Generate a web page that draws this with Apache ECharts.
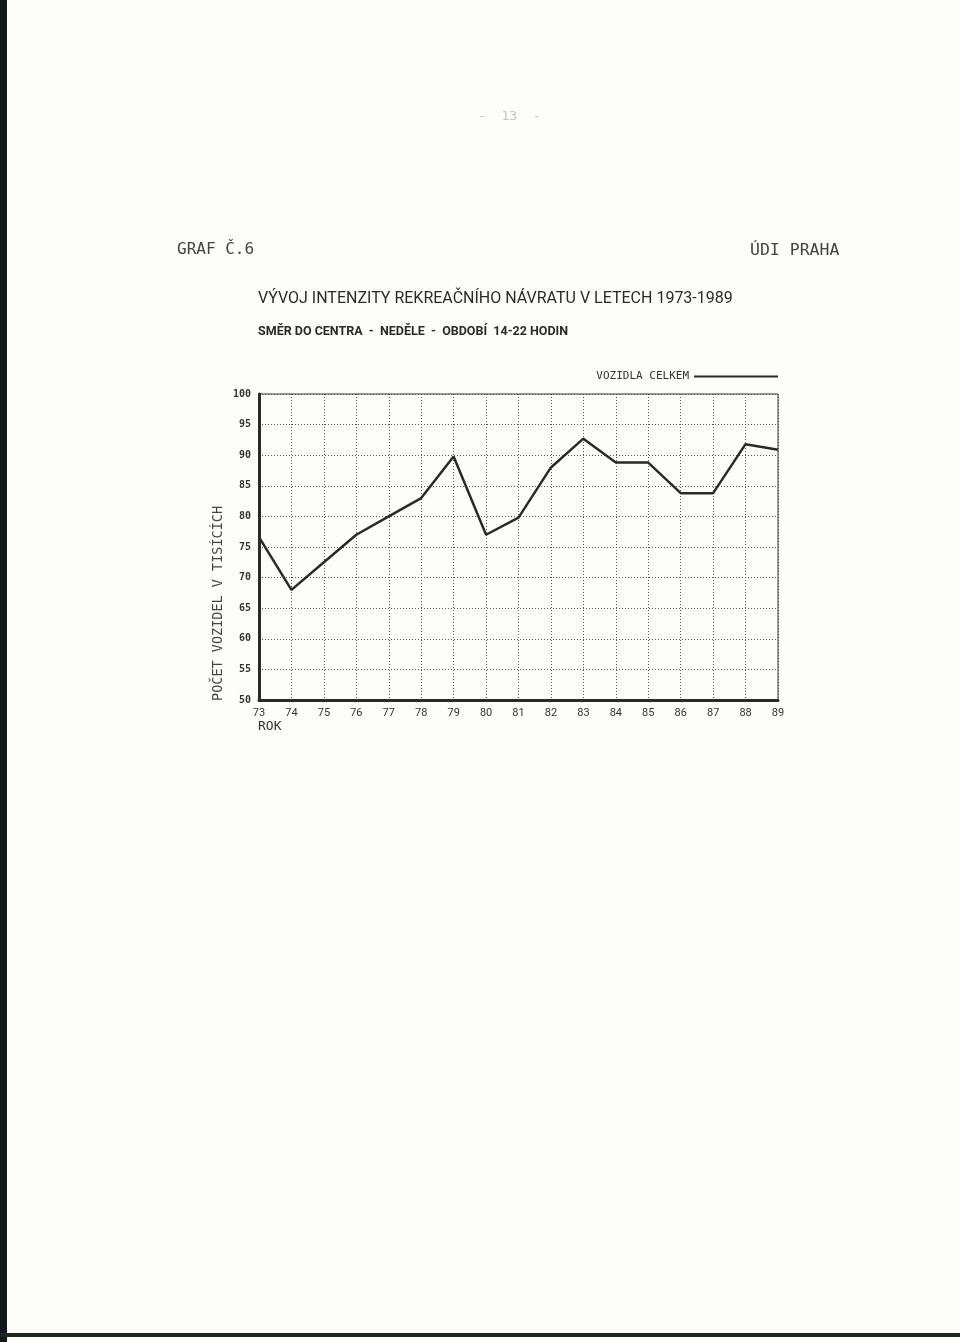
<!DOCTYPE html>
<html>
<head>
<meta charset="utf-8">
<script src="https://cdn.jsdelivr.net/npm/echarts@6/dist/echarts.min.js"></script>
<style>
html,body{margin:0;padding:0;background:#fdfdfb;}
#c{width:960px;height:1342px;}
</style>
</head>
<body>
<div id="c"></div>
<script>
const years = ['73','74','75','76','77','78','79','80','81','82','83','84','85','86','87','88','89'];
const vozidlaCelkem = [76.6, 68, 72.5, 77, 80, 83, 89.8, 77, 79.8, 88, 92.7, 88.8, 88.8, 83.8, 83.8, 91.8, 90.9];
const yMin = 50, yMax = 100, yStep = 5;

const chart = echarts.init(document.getElementById('c'), null, {renderer: 'canvas'});
const mono = '"DejaVu Sans Mono", monospace';
const narrow = '"Roboto", sans-serif';

chart.setOption({
  backgroundColor: '#fdfdfb',
  animation: false,
  title: [
    {text: 'VÝVOJ INTENZITY REKREAČNÍHO NÁVRATU V LETECH 1973-1989', left: 253, top: 286,
     textStyle: {fontFamily: narrow, fontSize: 16, fontWeight: 'normal', color: '#2a2a2a'}},
    {text: 'SMĚR DO CENTRA  -  NEDĚLE  -  OBDOBÍ  14-22 HODIN', left: 253, top: 320,
     textStyle: {fontFamily: narrow, fontSize: 12.5, fontWeight: 'bold', color: '#2a2a2a'}}
  ],
  graphic: [
    {type: 'rect', shape: {x: 0, y: 0, width: 7, height: 1342}, style: {fill: '#14181c'}},
    {type: 'rect', shape: {x: 0, y: 1333, width: 960, height: 4}, style: {fill: '#1e2622'}},
    {type: 'text', left: 177, top: 242, style: {text: 'GRAF Č.6', font: '16px ' + mono, fill: '#444'}},
    {type: 'text', left: 750, top: 242, style: {text: 'ÚDI PRAHA', font: '16.5px ' + mono, fill: '#444'}},
    {type: 'text', left: 478, top: 110, style: {text: '-  13  -', font: '13px ' + mono, fill: '#c4c4c4'}},
    {type: 'text', left: 258, top: 720, style: {text: 'ROK', font: '13px ' + mono, fill: '#333'}},
    {type: 'text', x: 218, y: 701, rotation: Math.PI / 2,
     style: {text: 'POČET VOZIDEL V TISÍCÍCH', font: '13.5px ' + mono, fill: '#444', textAlign: 'left', textVerticalAlign: 'middle'}}
  ],
  legend: {
    data: ['VOZIDLA CELKEM'],
    right: 182, top: 371, padding: 0,
    align: 'right',
    icon: 'rect',
    itemWidth: 84, itemHeight: 2, itemGap: 8,
    textStyle: {fontFamily: mono, fontSize: 11, color: '#333'}
  },
  grid: {
    left: 259, right: 182, top: 394, bottom: 642,
    show: true, borderColor: '#333', borderWidth: 1, containLabel: false
  },
  xAxis: {
    type: 'category', data: years, boundaryGap: false,
    axisLine: {lineStyle: {color: '#2a2a2a', width: 3}},
    axisTick: {show: false},
    axisLabel: {fontFamily: narrow, fontSize: 11, color: '#333', margin: 8},
    splitLine: {show: true, lineStyle: {type: [1, 2], color: '#555', width: 1}}
  },
  yAxis: {
    type: 'value', min: yMin, max: yMax, interval: yStep,
    axisLine: {show: true, lineStyle: {color: '#2a2a2a', width: 3}},
    axisTick: {show: false},
    axisLabel: {fontFamily: mono, fontSize: 10, fontWeight: 'bold', color: '#333', margin: 8},
    splitLine: {show: true, lineStyle: {type: [1, 2], color: '#555', width: 1}}
  },
  series: [{
    name: 'VOZIDLA CELKEM', type: 'line', data: vozidlaCelkem,
    showSymbol: false, symbol: 'none',
    lineStyle: {color: '#2a2a2a', width: 2.5},
    itemStyle: {color: '#2a2a2a'}
  }]
});
</script>
</body>
</html>
